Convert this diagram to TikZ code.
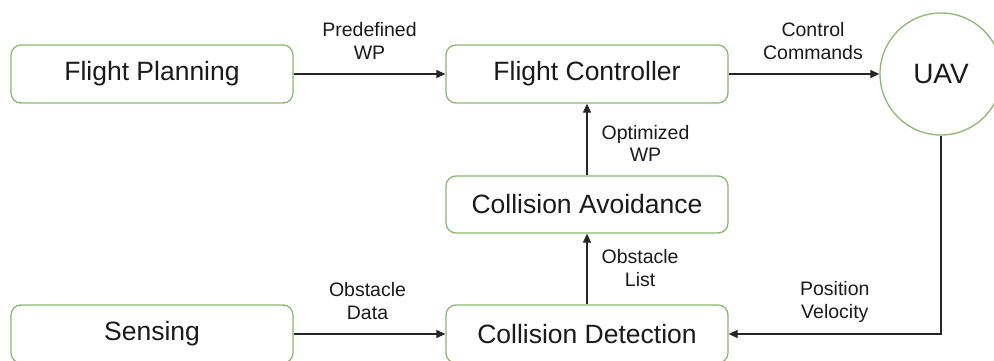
\documentclass[tikz,border=0pt]{standalone}
\usepackage{fontspec}
\setmainfont{Liberation Sans}
\usetikzlibrary{arrows.meta}

\definecolor{boxline}{HTML}{8DB872}
\definecolor{inkc}{HTML}{1A1A1A}
\definecolor{wirec}{HTML}{262626}

\tikzset{
  x=1pt, y=-1pt,
  block/.style={draw=boxline, line width=1.3pt, rounded corners=10pt,
    fill=white, minimum width=282pt, minimum height=58pt, inner sep=0pt,
    text=inkc, font=\fontsize{26.5}{30}\selectfont},
  vehicle/.style={circle, draw=boxline, line width=1.3pt, fill=white,
    minimum size=122pt, inner sep=0pt, text=inkc,
    font=\fontsize{28}{31}\selectfont},
  wire/.style={draw=wirec, line width=1.2pt,
    -{Triangle[length=9pt,width=8pt]}},
  tag/.style={text=inkc, align=center, inner sep=0pt,
    font=\fontsize{19.5}{22.5}\selectfont}
}

\begin{document}
\begin{tikzpicture}
  \useasboundingbox (0,0) rectangle (994,361);
  \clip (0,0) rectangle (994,361);
  \fill[white] (0,0) rectangle (994,361);

  % blocks
  \node[block] (plan)   at (152,74)    {Flight Planning};
  \node[block] (ctrl)   at (587,74)    {Flight Controller};
  \node[block, minimum height=57pt] (avoid) at (587,204.5) {Collision Avoidance};
  \node[block] (sense)  at (152,334)   {Sensing};
  \node[block] (detect) at (587,334)   {Collision Detection};
  \node[vehicle] (uav)  at (941,74)    {UAV};

  % data flow
  \draw[wire] (plan) -- node[tag, yshift=33pt] {Predefined\\WP} (ctrl);
  \draw[wire] (ctrl) -- node[tag, yshift=33pt, xshift=9pt] {Control\\Commands} (uav);
  \draw[wire] (avoid) -- node[tag, anchor=west, xshift=14pt, yshift=-4pt] {Optimized\\WP} (ctrl);
  \draw[wire] (detect) -- node[tag, anchor=west, xshift=14pt, yshift=1pt] {Obstacle\\List} (avoid);
  \draw[wire] (sense) -- node[tag, yshift=33pt, xshift=-2pt] {Obstacle\\Data} (detect);
  \draw[wire] (uav.south) |- node[tag, pos=0.75, yshift=32pt] {Position\\Velocity} (detect.east);
\end{tikzpicture}
\end{document}
